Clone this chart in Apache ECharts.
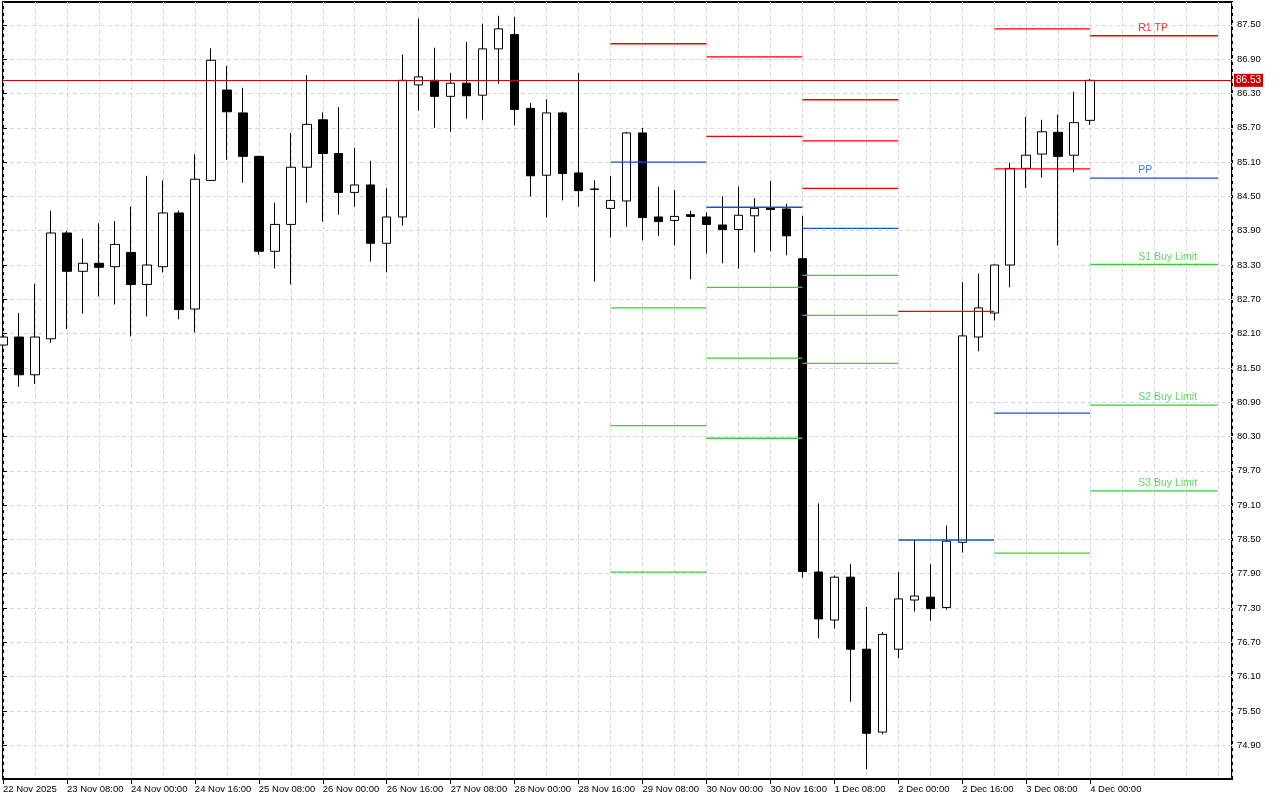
<!DOCTYPE html>
<html><head><meta charset="utf-8">
<script src="https://cdn.jsdelivr.net/npm/echarts@6/dist/echarts.min.js"></script>
<style>html,body{margin:0;padding:0;background:#fff}#c{width:1280px;height:800px}</style>
</head><body><div id="c"></div>
<script>
// ---- DATA ----
const times = [
  '22 Nov 16:00','22 Nov 20:00',
  '23 Nov 00:00','23 Nov 04:00','23 Nov 08:00','23 Nov 12:00','23 Nov 16:00','23 Nov 20:00',
  '24 Nov 00:00','24 Nov 04:00','24 Nov 08:00','24 Nov 12:00','24 Nov 16:00','24 Nov 20:00',
  '25 Nov 00:00','25 Nov 04:00','25 Nov 08:00','25 Nov 12:00','25 Nov 16:00','25 Nov 20:00',
  '26 Nov 00:00','26 Nov 04:00','26 Nov 08:00','26 Nov 12:00','26 Nov 16:00','26 Nov 20:00',
  '27 Nov 00:00','27 Nov 04:00','27 Nov 08:00','27 Nov 12:00','27 Nov 16:00','27 Nov 20:00',
  '28 Nov 00:00','28 Nov 04:00','28 Nov 08:00','28 Nov 12:00','28 Nov 16:00','28 Nov 20:00',
  '29 Nov 00:00','29 Nov 04:00','29 Nov 08:00','29 Nov 12:00','29 Nov 16:00','29 Nov 20:00',
  '30 Nov 00:00','30 Nov 04:00','30 Nov 08:00','30 Nov 12:00','30 Nov 16:00','30 Nov 20:00',
  '1 Dec 00:00','1 Dec 04:00','1 Dec 08:00','1 Dec 12:00','1 Dec 16:00','1 Dec 20:00',
  '2 Dec 00:00','2 Dec 04:00','2 Dec 08:00','2 Dec 12:00','2 Dec 16:00','2 Dec 20:00',
  '3 Dec 00:00','3 Dec 04:00','3 Dec 08:00','3 Dec 12:00','3 Dec 16:00','3 Dec 20:00',
  '4 Dec 00:00'
];
const open = [
  81.90,82.04,81.38,82.01,83.86,83.19,83.33,83.27,83.52,82.96,83.27,84.21,82.53,84.78,
  86.36,85.96,85.20,83.54,84.01,85.01,85.84,85.25,84.57,84.70,83.68,84.14,86.45,86.53,
  86.25,86.48,86.27,87.08,87.33,86.04,84.87,85.96,84.91,84.62,84.29,84.42,85.61,84.14,
  84.08,84.18,84.14,84.00,83.92,84.16,84.30,84.28,83.41,77.93,77.09,77.84,76.58,75.13,
  76.58,77.44,77.49,77.31,78.45,82.04,82.46,83.30,84.99,85.24,85.62,85.22,85.83
];
const close = [
  82.04,81.38,82.04,83.86,83.19,83.33,83.26,83.66,82.96,83.30,84.21,82.52,84.80,86.88,
  85.98,85.20,83.54,84.01,85.01,85.76,85.25,84.57,84.70,83.68,84.14,86.53,86.59,86.25,
  86.48,86.26,87.08,87.43,86.02,84.86,85.96,84.90,84.60,84.63,84.43,85.61,84.13,84.06,
  84.15,84.15,84.01,83.92,84.17,84.29,84.27,83.81,77.94,77.11,77.84,76.58,75.11,76.84,
  77.46,77.51,77.29,78.47,82.06,82.55,83.30,84.99,85.22,85.63,85.20,85.79,86.53
];
const low = [
  81.88,81.17,81.22,81.94,82.18,82.45,82.75,82.61,82.05,82.40,83.17,82.35,82.12,84.77,
  85.14,84.74,83.48,83.24,82.96,84.39,84.06,84.18,84.32,83.36,83.17,83.99,86.00,85.70,
  85.63,85.86,85.84,86.47,85.74,84.50,84.13,84.43,84.32,83.01,83.78,83.97,83.73,83.81,
  83.64,83.05,83.50,83.33,83.24,83.52,83.54,83.47,77.83,76.77,76.94,75.66,74.48,75.09,
  76.42,77.24,77.08,77.27,78.27,81.79,82.33,82.91,84.65,84.83,83.64,84.93,85.75
];
const high = [
  82.06,82.46,82.97,84.25,83.90,83.76,84.03,84.07,84.32,84.86,84.78,84.25,85.24,87.09,
  86.78,86.40,85.21,84.39,85.61,86.62,85.97,86.06,85.35,85.12,84.64,86.98,87.61,87.10,
  86.66,87.20,87.52,87.66,87.64,86.13,86.20,85.98,86.66,84.78,84.86,85.63,85.70,84.67,
  84.61,84.25,84.22,84.50,84.67,84.47,84.77,84.37,84.16,79.13,77.87,78.07,77.32,76.88,
  77.93,78.49,78.07,78.74,83.00,83.15,83.31,85.09,85.89,85.84,85.93,86.33,86.55
];
const xTickTimes = ['22 Nov 16:00','23 Nov 08:00','24 Nov 00:00','24 Nov 16:00','25 Nov 08:00','26 Nov 00:00',
  '26 Nov 16:00','27 Nov 08:00','28 Nov 00:00','28 Nov 16:00','29 Nov 08:00','30 Nov 00:00','30 Nov 16:00',
  '1 Dec 08:00','2 Dec 00:00','2 Dec 16:00','3 Dec 08:00','4 Dec 00:00'];
const xTickLabels = ['22 Nov 2025','23 Nov 08:00','24 Nov 00:00','24 Nov 16:00','25 Nov 08:00','26 Nov 00:00',
  '26 Nov 16:00','27 Nov 08:00','28 Nov 00:00','28 Nov 16:00','29 Nov 08:00','30 Nov 00:00','30 Nov 16:00',
  '1 Dec 08:00','2 Dec 00:00','2 Dec 16:00','3 Dec 08:00','4 Dec 00:00'];
const yTickLabels = ['87.50','86.90','86.30','85.70','85.10','84.50','83.90','83.30','82.70','82.10','81.50',
  '80.90','80.30','79.70','79.10','78.50','77.90','77.30','76.70','76.10','75.50','74.90'];
const currentPrice = 86.53;

// daily pivot levels (null = outside the visible range)
const pivotDays = ['29 Nov 00:00','30 Nov 00:00','1 Dec 00:00','2 Dec 00:00','3 Dec 00:00','4 Dec 00:00'];
const pivotR3 = [null, null, 86.19, null, null, null];
const pivotR2 = [null, 86.94, 85.47, null, 87.43, null];
const pivotR1 = [87.17, 85.55, 84.64, 82.49, 84.98, 87.31];
const pivotPP = [85.10, 84.31, 83.94, 78.49, 80.71, 84.82];
const pivotS1 = [82.55, 82.91, 83.12, null, 78.26, 83.31];
const pivotS2 = [80.49, 81.67, 82.42, null, null, 80.85];
const pivotS3 = [77.93, 80.27, 81.58, null, null, 79.35];
const lastDayLabels = {R1: 'R1 TP', PP: 'PP', S1: 'S1 Buy Limit', S2: 'S2 Buy Limit', S3: 'S3 Buy Limit'};

// ---- STYLE ----
const RED = '#f00000', BLUE = '#1552d2', GREEN = '#36cf36';
const FONT = 'Liberation Sans';

const candleData = times.map((t, i) => [i, open[i], close[i], low[i], high[i]]);
const xTickIdx = xTickTimes.map(t => times.indexOf(t));
const yTickVals = yTickLabels.map(Number);

const dayStart = pivotDays.map(d => times.indexOf(d));
const dayEnd = dayStart.map((s, k) => k + 1 < dayStart.length ? dayStart[k + 1] : s + 8);

const levels = [
  ['R3', pivotR3, RED], ['R2', pivotR2, RED], ['R1', pivotR1, RED], ['PP', pivotPP, BLUE],
  ['S1', pivotS1, GREEN], ['S2', pivotS2, GREEN], ['S3', pivotS3, GREEN]
];
const pivotSeries = [];
const textPoints = [];
levels.forEach(([name, arr, col]) => {
  arr.forEach((v, k) => {
    if (v == null) return;
    pivotSeries.push({
      type: 'line', xAxisIndex: 0, yAxisIndex: 0, silent: true, symbol: 'none', z: 5,
      data: [[dayStart[k], v], [dayEnd[k], v]],
      lineStyle: { color: col, width: 1.3 }
    });
    if (k === arr.length - 1 && lastDayLabels[name]) {
      textPoints.push({ value: [dayStart[k] + 3, v], name: lastDayLabels[name], label: { color: col } });
    }
  });
});

const chart = echarts.init(document.getElementById('c'), null, { renderer: 'canvas' });
chart.setOption({
  animation: false,
  backgroundColor: '#ffffff',
  grid: { left: 2, top: 2, right: 48, bottom: 21, show: true, borderColor: '#000', borderWidth: 2, backgroundColor: 'transparent' },
  xAxis: [
    {
      type: 'value', min: 0, max: 76.87, interval: 2,
      axisLine: { show: false }, axisTick: { show: false }, axisLabel: { show: false },
      splitLine: { show: true, lineStyle: { color: '#d8d8d8', type: [4, 3], width: 1 } }
    },
    {
      type: 'value', min: 0, max: 76.87, position: 'bottom',
      axisLine: { show: false },
      axisTick: { show: true, length: 5, customValues: xTickIdx, lineStyle: { color: '#000' } },
      axisLabel: {
        show: true, customValues: xTickIdx, margin: 5, align: 'left',
        fontFamily: FONT, fontSize: 9.5, color: '#000',
        formatter: v => { const k = xTickIdx.indexOf(Math.round(v)); return k >= 0 ? xTickLabels[k] : ''; }
      },
      splitLine: { show: false }
    }
  ],
  yAxis: {
    type: 'value', position: 'right', min: 74.31, max: 87.90, scale: true,
    axisLine: { show: false },
    axisTick: { show: true, length: 4, customValues: yTickVals, lineStyle: { color: '#000' } },
    axisLabel: {
      show: true, customValues: yTickVals, margin: 5, fontFamily: FONT, fontSize: 9.5, color: '#000',
      formatter: v => v.toFixed(2)
    },
    splitLine: { show: true, lineStyle: { color: '#d8d8d8', type: [4, 3], width: 1 } }
  },
  series: [
    {
      type: 'candlestick', xAxisIndex: 0, yAxisIndex: 0, z: 3,
      data: candleData, encode: { x: 0, y: [1, 2, 3, 4] },
      barWidth: 9, clip: true,
      itemStyle: { color: '#ffffff', color0: '#000000', borderColor: '#000000', borderColor0: '#000000', borderWidth: 1 },
      emphasis: { disabled: true },
      markLine: {
        silent: true, symbol: ['none', 'none'], animation: false,
        data: [{ yAxis: currentPrice }],
        lineStyle: { color: '#d40000', width: 1.2, type: 'solid' },
        label: {
          show: true, position: 'end', distance: 2, formatter: currentPrice.toFixed(2),
          backgroundColor: '#c80000', color: '#ffffff', fontFamily: FONT, fontSize: 10, padding: [2, 2, 1, 2]
        },
        emphasis: { disabled: true }
      }
    },
    ...pivotSeries,
    {
      type: 'scatter', xAxisIndex: 0, yAxisIndex: 0, silent: true, symbolSize: 0, z: 6,
      data: textPoints,
      label: { show: true, position: [0, -13], formatter: p => p.name, fontFamily: FONT, fontSize: 10.5 }
    }
  ]
});
</script>
</body></html>
